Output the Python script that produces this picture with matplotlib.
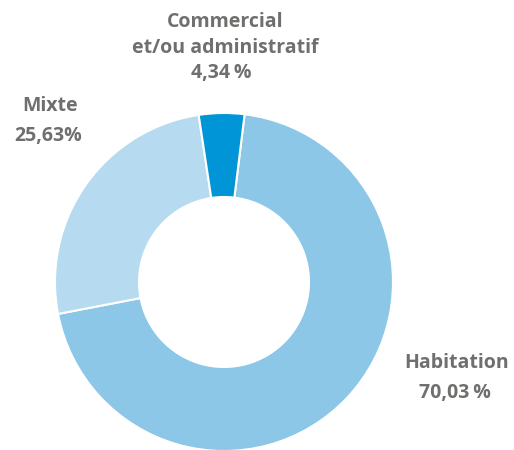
import matplotlib.pyplot as plt

categories = ['Habitation', 'Mixte', 'Commercial\net/ou administratif']
values = [70.03, 25.63, 4.34]
value_labels = ['70,03\u2009%', '25,63%', '4,34\u2009%']
colors = ['#8DC7E8', '#B6DAF0', '#0095D6']

text_color = '#6F6F6E'
plt.rcParams['font.family'] = ['Open Sans', 'DejaVu Sans']

fig = plt.figure(figsize=(5.14, 4.5), dpi=100)
ax = fig.add_axes([0, 0, 1, 1])

ax.pie(values, colors=colors, startangle=83, counterclock=False,
       center=(224, 168), radius=169,
       wedgeprops=dict(width=84, edgecolor='white', linewidth=1.5))

ax.set_xlim(0, 514)
ax.set_ylim(0, 450)
ax.axis('off')

# labels (pixel coords, y = baseline from top)
def lab(x, y, s):
    ax.text(x, 450 - y, s, ha='center', va='baseline', fontsize=14,
            fontweight='bold', color=text_color)

lab(225, 27, 'Commercial')
lab(225, 53, 'et/ou administratif')
lab(221, 78, value_labels[2])
lab(50, 111, 'Mixte')
lab(48, 141, value_labels[1])
lab(457, 368, 'Habitation')
lab(455, 398, value_labels[0])

fig.savefig('out.png', dpi=100)
